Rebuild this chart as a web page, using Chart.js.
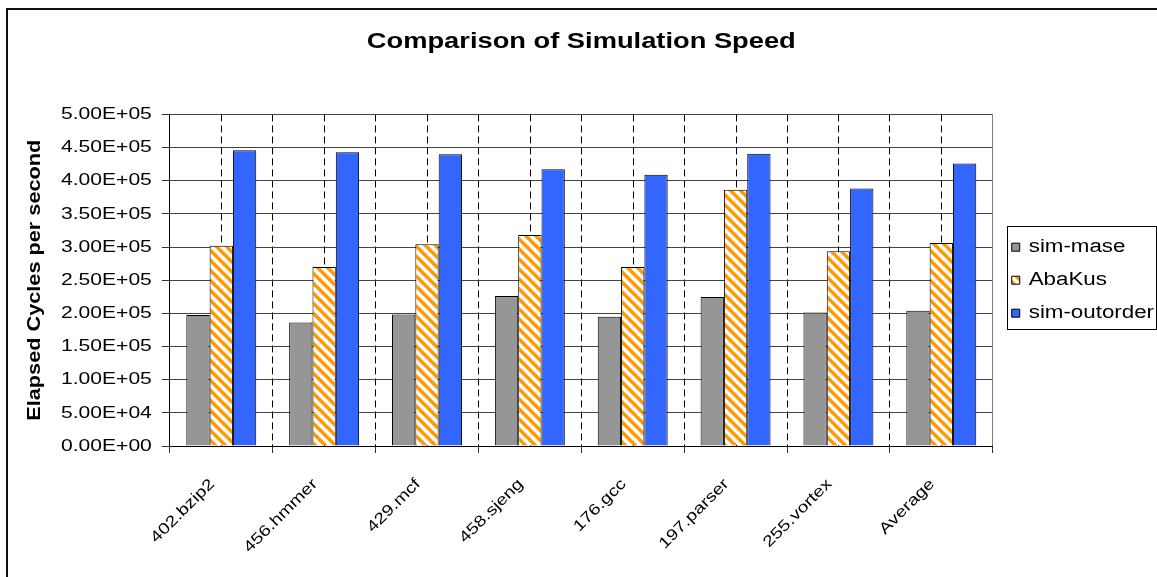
<!DOCTYPE html>
<html>
<head>
<meta charset="utf-8">
<title>Comparison of Simulation Speed</title>
<script src="https://cdn.jsdelivr.net/npm/chart.js@4.4.1/dist/chart.umd.min.js"></script>
<style>
  html, body { margin: 0; padding: 0; background: #fff; overflow: hidden; }
  canvas { display: block; }
</style>
</head>
<body>
<canvas id="speed" width="1168" height="577"></canvas>
<script>
// Benchmarks along the x axis
const benchmarks = ['402.bzip2', '456.hmmer', '429.mcf', '458.sjeng', '176.gcc', '197.parser', '255.vortex', 'Average'];

// Elapsed cycles per second for each simulator
const simMase    = [197400, 186200, 198300, 226100, 194900, 224600, 201400, 203900];
const abaKus     = [302100, 269900, 304100, 318300, 269900, 386300, 293500, 306200];
const simOutorder = [446100, 443000, 440000, 417400, 408900, 440600, 388200, 426000];

// Value axis labels, bottom to top
const yTickLabels = ['0.00E+00', '5.00E+04', '1.00E+05', '1.50E+05', '2.00E+05', '2.50E+05',
                     '3.00E+05', '3.50E+05', '4.00E+05', '4.50E+05', '5.00E+05'];

const FONT = "'Liberation Sans', Arial, sans-serif";

// Wide lettering: glyphs are drawn stretched along their baseline.
const TEXT_WIDEN = 1.24;
(function () {
  const proto = CanvasRenderingContext2D.prototype;
  const baseFill = proto.fillText;
  const baseMeasure = proto.measureText;
  proto.fillText = function (text, x, y, maxWidth) {
    this.save();
    this.translate(x, y);
    this.scale(TEXT_WIDEN, 1);
    if (maxWidth === undefined || maxWidth === null) baseFill.call(this, text, 0, 0);
    else baseFill.call(this, text, 0, 0, maxWidth / TEXT_WIDEN);
    this.restore();
  };
  proto.measureText = function (text) {
    const m = baseMeasure.call(this, text);
    return {
      width: m.width * TEXT_WIDEN,
      actualBoundingBoxLeft: m.actualBoundingBoxLeft * TEXT_WIDEN,
      actualBoundingBoxRight: m.actualBoundingBoxRight * TEXT_WIDEN,
      actualBoundingBoxAscent: m.actualBoundingBoxAscent,
      actualBoundingBoxDescent: m.actualBoundingBoxDescent,
      fontBoundingBoxAscent: m.fontBoundingBoxAscent,
      fontBoundingBoxDescent: m.fontBoundingBoxDescent
    };
  };
})();

// Orange / white diagonal hatching for the AbaKus bars
function hatch(color) {
  const tile = document.createElement('canvas');
  tile.width = tile.height = 10;
  const g = tile.getContext('2d');
  g.fillStyle = '#ffffff';
  g.fillRect(0, 0, 10, 10);
  g.strokeStyle = color;
  g.lineWidth = 3.4;
  g.beginPath();
  for (const k of [-10, 0, 10]) {
    g.moveTo(k - 1, -1);
    g.lineTo(k + 11, 11);
  }
  g.stroke();
  return g.createPattern(tile, 'repeat');
}

const DASH = [7, 4];

const framePlugin = {
  id: 'frame',
  beforeDraw(chart) {
    const ctx = chart.ctx;
    ctx.save();
    ctx.fillStyle = '#ffffff';
    ctx.fillRect(0, 0, chart.width, chart.height);
    ctx.strokeStyle = '#111';
    ctx.lineWidth = 2;
    ctx.strokeRect(7, 9, chart.width + 20, chart.height + 20);
    ctx.restore();
  },
  afterLayout(chart) {
    // legend sits a little right of its slot
    chart.legend.left += 4;
    chart.legend.right += 4;
  },
  beforeDatasetsDraw(chart) {
    const {ctx, chartArea: a, scales: {x}} = chart;
    ctx.save();
    // dashed lines through the middle of each category
    ctx.strokeStyle = '#000';
    ctx.lineWidth = 1;
    ctx.setLineDash(DASH);
    benchmarks.forEach((_, i) => {
      const px = Math.round(x.getPixelForValue(i)) + 0.5;
      ctx.beginPath();
      ctx.moveTo(px, a.top);
      ctx.lineTo(px, a.bottom);
      ctx.stroke();
    });
    // plot-area edge on the right
    ctx.setLineDash([]);
    ctx.strokeStyle = '#808080';
    const rx = Math.round(a.right) - 0.5;
    ctx.beginPath();
    ctx.moveTo(rx, a.top);
    ctx.lineTo(rx, a.bottom);
    ctx.stroke();
    ctx.restore();
  },
  afterDraw(chart) {
    // box round the legend
    const lg = chart.legend;
    const pad = lg.options.labels.padding;
    const colH = lg.columnSizes[0].height;
    const y0 = (lg.top + pad + lg.bottom - colH) / 2;
    const left = Math.round(lg.left + pad - 5) + 0.5;
    const top = Math.round(y0 - 12) + 0.5;
    const bottom = Math.round(y0 + colH - 8) + 0.5;
    const ctx = chart.ctx;
    ctx.save();
    ctx.strokeStyle = '#000';
    ctx.lineWidth = 1;
    ctx.strokeRect(left, top, 149, bottom - top);
    ctx.restore();
  }
};

new Chart(document.getElementById('speed'), {
  type: 'bar',
  data: {
    labels: benchmarks,
    datasets: [
      { label: 'sim-mase', data: simMase, backgroundColor: '#969696', borderColor: '#000', borderWidth: 1 },
      { label: 'AbaKus', data: abaKus, backgroundColor: hatch('#FF9900'), borderColor: '#000', borderWidth: 1 },
      { label: 'sim-outorder', data: simOutorder, backgroundColor: '#3366FF', borderColor: '#000', borderWidth: 1 }
    ]
  },
  options: {
    responsive: false,
    animation: false,
    devicePixelRatio: 1,
    datasets: { bar: { categoryPercentage: 0.68, barPercentage: 1.0 } },
    layout: { padding: { left: 0, right: 8, top: 0, bottom: 0 } },
    plugins: {
      title: {
        display: true,
        fullSize: false,
        text: 'Comparison of Simulation Speed',
        color: '#000',
        font: { family: FONT, size: 22, weight: 'bold' },
        padding: { top: 29, bottom: 59 }
      },
      legend: {
        position: 'right',
        fullSize: false,
        labels: {
          color: '#000',
          font: { family: FONT, size: 18 },
          boxWidth: 8,
          boxHeight: 8,
          padding: 15
        }
      },
      tooltip: { enabled: false }
    },
    scales: {
      x: {
        afterFit: (scale) => { scale.height = 131; },
        grid: {
          // dashed boundaries inside the plot; the closing edge is drawn solid separately
          color: (c) => (c.type === 'tick' ? '#000' : 'rgba(0,0,0,0)'),
          lineWidth: 1,
          tickLength: 7,
          tickColor: '#333',
          offset: true
        },
        border: { color: '#000', width: 1, dash: DASH },
        ticks: {
          color: '#000',
          font: { family: FONT, size: 15.5 },
          autoSkip: false,
          minRotation: 45,
          maxRotation: 45,
          padding: 22,
          labelOffset: -9
        }
      },
      y: {
        min: 0,
        max: 500000,
        grid: { color: '#444', lineWidth: 1, tickLength: 8, tickColor: '#333' },
        border: { color: '#000', width: 1 },
        ticks: {
          stepSize: 50000,
          color: '#000',
          font: { family: FONT, size: 17 },
          padding: 10,
          callback: (value, index) => yTickLabels[index]
        },
        title: {
          display: true,
          text: 'Elapsed Cycles per second',
          color: '#000',
          font: { family: FONT, size: 17.5, weight: 'bold' },
          padding: { top: 25, bottom: 5 }
        }
      }
    }
  },
  plugins: [framePlugin]
});
</script>
</body>
</html>
